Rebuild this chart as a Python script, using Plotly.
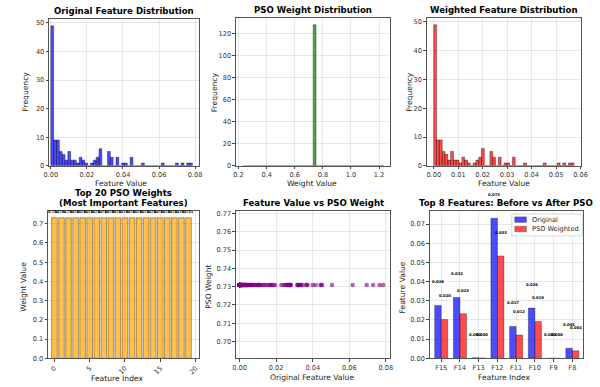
import numpy as np
import plotly.graph_objects as go

# ---------------- data ----------------
feature_values = ([0.0] * 28 +
    [0.0001, 0.0002, 0.0003, 0.0004, 0.0005, 0.0006, 0.0007, 0.0008, 0.0009, 0.0010,
     0.0011, 0.0012, 0.0013, 0.0014, 0.0015, 0.00015, 0.00025, 0.00045, 0.00065, 0.00085, 0.00105,
     0.0016, 0.0018, 0.0020, 0.0022, 0.0024, 0.0026, 0.0028, 0.0029, 0.0031,
     0.0032, 0.0034, 0.0035, 0.0037, 0.0039, 0.0041, 0.0043, 0.0045, 0.0046,
     0.0049, 0.0053, 0.0055, 0.0058, 0.0061,
     0.0065, 0.0069, 0.0072, 0.0076,
     0.0081, 0.0089,
     0.0096, 0.0099, 0.0102, 0.0105, 0.0108,
     0.0113, 0.0121,
     0.0130, 0.0138,
     0.0148,
     0.0160, 0.0166, 0.0170,
     0.0178, 0.0185,
     0.0195,
     0.0228,
     0.0240, 0.0248,
     0.0255, 0.0262, 0.0264,
     0.0270, 0.0272, 0.0274, 0.0276, 0.0278, 0.0281,
     0.0316, 0.0317, 0.0320, 0.0323, 0.0327,
     0.0332, 0.0337, 0.0342,
     0.0363, 0.0367, 0.0372,
     0.0400, 0.0416,
     0.0442, 0.0447, 0.0451,
     0.0505, 0.0618, 0.0695, 0.0730, 0.0765, 0.0785])
pso_weights = [0.731] * 128

top20_index = list(range(20))
top20_weights = [0.731] * 20

top8_labels = ["F15", "F14", "F13", "F12", "F11", "F10", "F9", "F8"]
top8_original = [0.0276, 0.0317, 0.0003, 0.0730, 0.0166, 0.0262, 0.0, 0.0053]
top8_weighted = [0.0202, 0.0232, 0.0002, 0.0534, 0.0121, 0.0192, 0.0, 0.0039]
legend_names = ["Original", "PSO Weighted"]

N_BINS = 50

# ---------------- layout helpers ----------------
W, H = 600, 387
FONT = "DejaVu Sans"
BLUE = "rgba(0,0,255,0.7)"
RED = "rgba(255,0,0,0.7)"

def px(p):
    return p / W

def py(p):
    return 1 - p / H

panels = {
    1: (44, 197, 18, 167),
    2: (235, 393, 17, 167),
    3: (430, 588, 17, 167),
    4: (43, 197, 213, 362),
    5: (235, 393, 213, 362),
    6: (433, 590, 213, 362),
}

fig = go.Figure()

def hist_bars(values, color, ax):
    counts, edges = np.histogram(np.asarray(values, dtype=float), bins=N_BINS)
    centers = (edges[:-1] + edges[1:]) / 2
    widths = np.diff(edges)
    fig.add_trace(go.Bar(x=centers, y=counts, width=widths,
                         marker=dict(color=color, line=dict(color="rgba(0,0,0,0.75)", width=0.5)),
                         xaxis="x" + ax, yaxis="y" + ax, showlegend=False, hoverinfo="skip"))

weighted_values = np.asarray(feature_values) * np.asarray(pso_weights)

hist_bars(feature_values, BLUE, "")
hist_bars(pso_weights, "rgba(0,128,0,0.7)", "2")
hist_bars(weighted_values, RED, "3")

# top 20 weights
fig.add_trace(go.Bar(x=top20_index, y=top20_weights, width=0.8,
                     marker=dict(color="rgba(255,165,0,0.7)", line=dict(color="rgba(0,0,0,0.45)", width=0.8)),
                     xaxis="x4", yaxis="y4", showlegend=False, hoverinfo="skip"))

# scatter
fig.add_trace(go.Scatter(x=feature_values, y=pso_weights, mode="markers",
                         marker=dict(color="rgba(128,0,128,0.6)", size=4.5, line=dict(width=0)),
                         xaxis="x5", yaxis="y5", showlegend=False, hoverinfo="skip"))

# top 8 before / after
idx8 = np.arange(len(top8_labels))
fig.add_trace(go.Bar(x=idx8, y=top8_original, width=0.35, offset=-0.35, name=legend_names[0],
                     marker=dict(color=BLUE, line=dict(color="rgba(0,0,0,0.5)", width=0.6)),
                     xaxis="x6", yaxis="y6", hoverinfo="skip", showlegend=False))
fig.add_trace(go.Bar(x=idx8, y=top8_weighted, width=0.35, offset=0.0, name=legend_names[1],
                     marker=dict(color=RED, line=dict(color="rgba(0,0,0,0.5)", width=0.6)),
                     xaxis="x6", yaxis="y6", hoverinfo="skip", showlegend=False))

annotations = []
shapes = []

Y6_RANGE = [0, 0.0767]

def y6_to_paper(v):
    l, r, t, b = panels[6]
    y0, y1 = py(b), py(t)
    return y0 + (v - Y6_RANGE[0]) / (Y6_RANGE[1] - Y6_RANGE[0]) * (y1 - y0)

# bar value labels
for i, v in zip(top20_index, top20_weights):
    annotations.append(dict(x=i, y=v + 0.01, xref="x4", yref="y4", text=f"<b>{v:.3f}</b>",
                            showarrow=False, yanchor="bottom", font=dict(size=3.6, family=FONT, color="#000")))
for i, v in zip(idx8, top8_original):
    annotations.append(dict(x=i - 0.175, y=y6_to_paper(v + 0.01), xref="x6", yref="paper", text=f"<b>{v:.3f}</b>",
                            showarrow=False, yanchor="bottom", font=dict(size=3.8, family=FONT, color="#000")))
for i, v in zip(idx8, top8_weighted):
    annotations.append(dict(x=i + 0.175, y=y6_to_paper(v + 0.01), xref="x6", yref="paper", text=f"<b>{v:.3f}</b>",
                            showarrow=False, yanchor="bottom", font=dict(size=3.8, family=FONT, color="#000")))

# titles
titles = {
    1: ["Original Feature Distribution"],
    2: ["PSO Weight Distribution"],
    3: ["Weighted Feature Distribution"],
    4: ["Top 20 PSO Weights", "(Most Important Features)"],
    5: ["Feature Value vs PSO Weight"],
    6: ["Top 8 Features: Before vs After PSO"],
}
for k, lines in titles.items():
    l, r, t, b = panels[k]
    for j, line in enumerate(lines):
        n = len(lines)
        ypix = t - 8 - (n - 1 - j) * 10
        annotations.append(dict(x=px((l + r) / 2), y=py(ypix), xref="paper", yref="paper",
                                text=f"<b>{line}</b>", showarrow=False, xanchor="center", yanchor="middle",
                                font=dict(size=8.6, family=FONT, color="#000")))

# axis titles (placed like the reference)
x_titles = {1: ("Feature Value", 118, 185), 2: ("Weight Value", 313, 185), 3: ("Feature Value", 509, 185),
            4: ("Feature Index", 114, 382.5), 5: ("Original Feature Value", 313, 381.5),
            6: ("Feature Index", 510, 381.5)}
y_titles = {1: ("Frequency", 20, 92), 2: ("Frequency", 213, 92), 3: ("Frequency", 413, 92),
            4: ("Weight Value", 18, 290), 5: ("PSO Weight", 207, 290), 6: ("Feature Value", 405, 290)}
for k, (txt, xp, yp) in x_titles.items():
    annotations.append(dict(x=px(xp), y=py(yp), xref="paper", yref="paper", text=txt, showarrow=False,
                            xanchor="center", yanchor="middle", font=dict(size=7.6, family=FONT, color="#222")))
for k, (txt, xp, yp) in y_titles.items():
    annotations.append(dict(x=px(xp), y=py(yp), xref="paper", yref="paper", text=txt, showarrow=False,
                            textangle=-90, xanchor="center", yanchor="middle",
                            font=dict(size=7.6, family=FONT, color="#222")))

# legend (drawn as a small box like the reference)
shapes.append(dict(type="rect", xref="paper", yref="paper", x0=px(517), x1=px(589), y0=py(238), y1=py(216),
                   line=dict(color="#d0d0d0", width=0.8), fillcolor="rgba(255,255,255,0.85)", layer="above"))
for j, (name, col) in enumerate(zip(legend_names, [BLUE, RED])):
    yc = 221.5 + j * 9.5
    shapes.append(dict(type="rect", xref="paper", yref="paper", x0=px(520), x1=px(532),
                       y0=py(yc + 2.8), y1=py(yc - 2.8), line=dict(color="rgba(0,0,0,0.5)", width=0.5),
                       fillcolor=col, layer="above"))
    annotations.append(dict(x=px(536), y=py(yc), xref="paper", yref="paper", text=name, showarrow=False,
                            xanchor="left", yanchor="middle", font=dict(size=6.6, family=FONT, color="#222")))

def axis(k, kind, rng, dtick=None, fmt=None, tickangle=None, tickvals=None, ticktext=None):
    l, r, t, b = panels[k]
    d = dict(range=rng, showline=True, mirror=True, linecolor="#555", linewidth=0.9,
             ticks="outside", ticklen=2.5, tickwidth=0.8, tickcolor="#444",
             showgrid=True, gridcolor="rgba(0,0,0,0.09)", gridwidth=0.6, zeroline=False,
             tickfont=dict(size=6.6, family=FONT, color="#333"),
             anchor=("y" if k == 1 else f"y{k}") if kind == "x" else ("x" if k == 1 else f"x{k}"))
    if kind == "x":
        d["domain"] = [px(l), px(r)]
    else:
        d["domain"] = [py(b), py(t)]
    if dtick is not None:
        d["dtick"] = dtick
        d["tick0"] = 0
    if fmt:
        d["tickformat"] = fmt
    if tickangle is not None:
        d["tickangle"] = tickangle
    if tickvals is not None:
        d["tickmode"] = "array"
        d["tickvals"] = tickvals
        d["ticktext"] = ticktext
    return d

layout = dict(
    width=W, height=H, margin=dict(l=0, r=0, t=0, b=0),
    paper_bgcolor="white", plot_bgcolor="white", barmode="overlay",
    font=dict(family=FONT), showlegend=False,
    xaxis=axis(1, "x", [-0.001, 0.082], 0.02, ".2f"),
    yaxis=axis(1, "y", [0, 51.45], 10),
    xaxis2=axis(2, "x", [0.181, 1.281], 0.2, ".1f"),
    yaxis2=axis(2, "y", [0, 134.4], 20),
    xaxis3=axis(3, "x", [-0.0029, 0.0603], 0.01, ".2f"),
    yaxis3=axis(3, "y", [0, 51.45], 10),
    xaxis4=axis(4, "x", [-0.9, 20.45], 5, None, -45),
    yaxis4=axis(4, "y", [0, 0.765], 0.1, ".1f"),
    xaxis5=axis(5, "x", [-0.002, 0.0825], 0.02, ".2f"),
    yaxis5=axis(5, "y", [0.6908, 0.7713], 0.01, ".2f"),
    xaxis6=axis(6, "x", [-0.62, 7.58], None, None, None, list(idx8), top8_labels),
    yaxis6=axis(6, "y", Y6_RANGE, 0.01, ".2f"),
    annotations=annotations,
    shapes=shapes,
)
layout["yaxis5"]["tick0"] = 0.70
fig.update_layout(**layout)

fig.write_html("out.html", config={"displayModeBar": False},
               post_script="document.body.style.margin='0px';")
